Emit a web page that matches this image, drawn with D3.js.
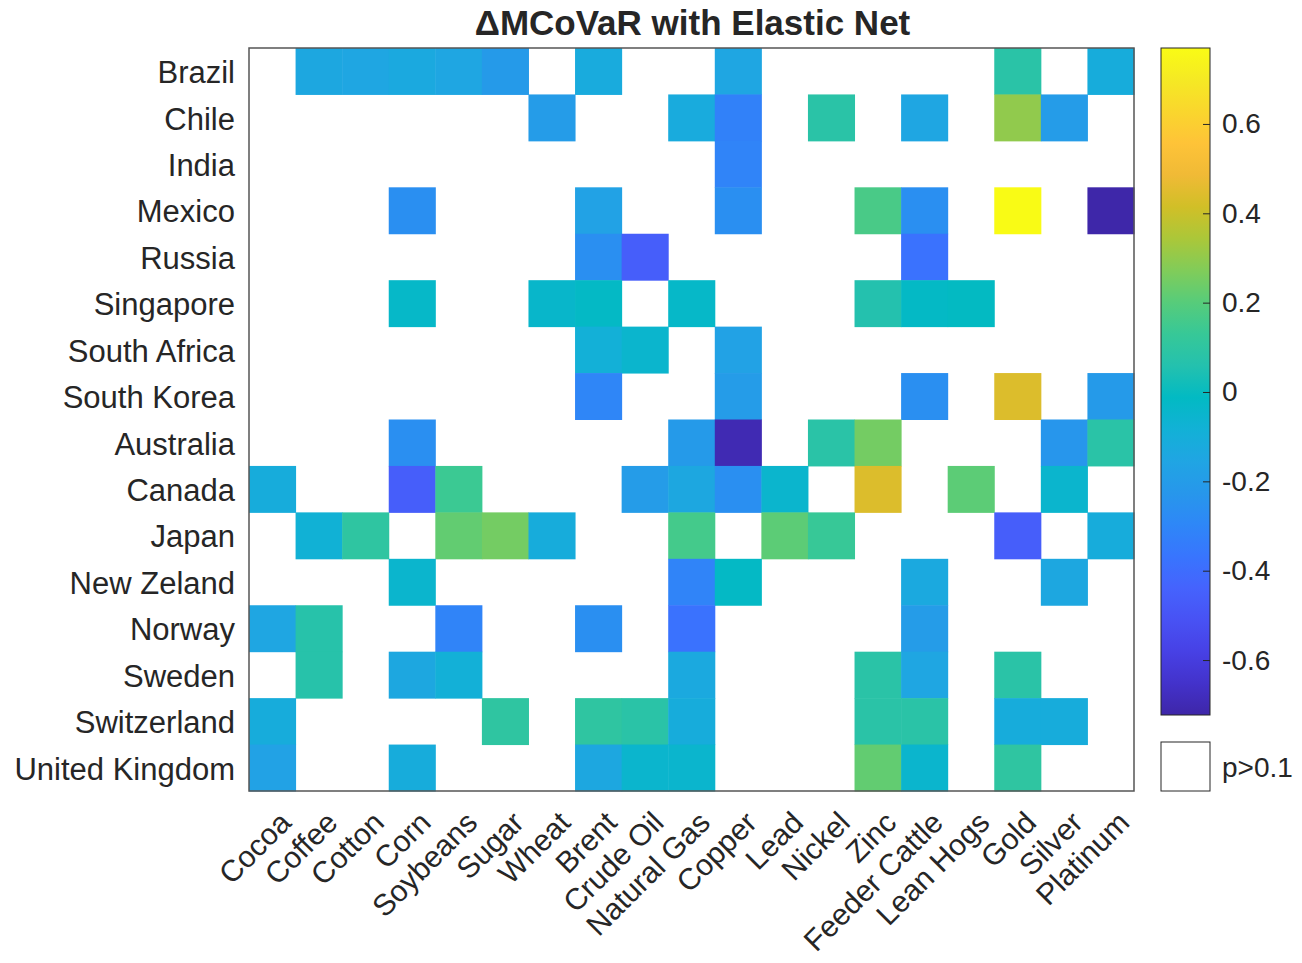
<!DOCTYPE html>
<html>
<head>
<meta charset="utf-8">
<script src="https://cdn.jsdelivr.net/npm/d3@7"></script>
<style>
  body { margin: 0; background: #fff; }
  text { font-family: "Liberation Sans", Arial, Helvetica, sans-serif; fill: #262626; }
</style>
</head>
<body>
<div id="chart"></div>
<script>
// categories
var countries = ["Brazil", "Chile", "India", "Mexico", "Russia", "Singapore", "South Africa",
    "South Korea", "Australia", "Canada", "Japan", "New Zeland", "Norway", "Sweden",
    "Switzerland", "United Kingdom"]
var commodities = ["Cocoa", "Coffee", "Cotton", "Corn", "Soybeans", "Sugar", "Wheat", "Brent",
    "Crude Oil", "Natural Gas", "Copper", "Lead", "Nickel", "Zinc", "Feeder Cattle",
    "Lean Hogs", "Gold", "Silver", "Platinum"]

// ΔMCoVaR values, one row per country (null = p>0.1)
var values = [
    [null, -0.14, -0.15, -0.13, -0.15, -0.21, null, -0.12, null, null, -0.15, null, null, null, null, null, 0.08, null, -0.11],
    [null, null, null, null, null, null, -0.20, null, null, -0.12, -0.32, null, 0.08, null, -0.15, null, 0.30, -0.20, null],
    [null, null, null, null, null, null, null, null, null, null, -0.31, null, null, null, null, null, null, null, null],
    [null, null, null, -0.26, null, null, null, -0.17, null, null, -0.26, null, null, 0.17, -0.26, null, 0.77, null, -0.72],
    [null, null, null, null, null, null, null, -0.26, -0.46, null, null, null, null, null, -0.38, null, null, null, null],
    [null, null, null, -0.03, null, null, -0.04, -0.02, null, -0.03, null, null, null, 0.06, -0.02, -0.01, null, null, null],
    [null, null, null, null, null, null, null, -0.09, -0.05, null, -0.17, null, null, null, null, null, null, null, null],
    [null, null, null, null, null, null, null, -0.30, null, null, -0.20, null, null, null, -0.26, null, 0.44, null, -0.21],
    [null, null, null, -0.26, null, null, null, null, null, -0.21, -0.70, null, 0.08, 0.25, null, null, null, -0.23, 0.08],
    [-0.11, null, null, -0.46, 0.14, null, null, null, -0.20, -0.14, -0.26, -0.05, null, 0.44, null, 0.21, null, -0.05, null],
    [null, -0.08, 0.10, null, 0.22, 0.25, -0.11, null, null, 0.16, null, 0.21, 0.13, null, null, null, -0.46, null, -0.11],
    [null, null, null, -0.05, null, null, null, null, null, -0.31, -0.02, null, null, null, -0.13, null, null, -0.14, null],
    [-0.15, 0.07, null, null, -0.31, null, null, -0.26, null, -0.38, null, null, null, null, -0.20, null, null, null, null],
    [null, 0.07, null, -0.14, -0.09, null, null, null, null, -0.13, null, null, null, 0.08, -0.15, null, 0.08, null, null],
    [-0.11, null, null, null, null, 0.10, null, 0.10, 0.08, -0.11, null, null, null, 0.08, 0.08, null, -0.11, -0.11, null],
    [-0.17, null, null, -0.11, null, null, null, -0.14, -0.05, -0.05, null, null, null, 0.22, -0.05, null, 0.10, null, null]
]

// colour limits and colourbar ticks
var cLimits = [-0.723, 0.77]
var cbTicks = [-0.6, -0.4, -0.2, 0, 0.2, 0.4, 0.6]

// parula colormap (every 3rd entry of the 64-entry table)
var parula = [
    [0.2422, 0.1504, 0.6603], [0.2647, 0.1978, 0.7952], [0.2783, 0.2559, 0.8991],
    [0.2810, 0.3228, 0.9579], [0.2699, 0.3892, 0.9906], [0.2206, 0.4603, 0.9973],
    [0.1786, 0.5289, 0.9682], [0.1540, 0.5902, 0.9218], [0.1248, 0.6459, 0.8883],
    [0.0689, 0.6948, 0.8394], [0.0067, 0.7312, 0.7660], [0.1408, 0.7584, 0.6842],
    [0.2161, 0.7843, 0.5923], [0.3406, 0.8008, 0.4789], [0.5044, 0.7993, 0.3480],
    [0.6720, 0.7793, 0.2227], [0.8203, 0.7498, 0.1535], [0.9393, 0.7288, 0.2100],
    [0.9970, 0.7659, 0.2199], [0.9786, 0.8386, 0.1766], [0.9597, 0.9135, 0.1423],
    [0.9769, 0.9839, 0.0805]
].map(c => d3.rgb(c[0] * 255, c[1] * 255, c[2] * 255).formatHex())

var width = 1302
var height = 963
var plotLeft = 249, plotRight = 1134, plotTop = 48, plotBottom = 791

var svg = d3.select('#chart')
    .append('svg')
    .attr('width', width)
    .attr('height', height)

var xScale = d3.scaleBand().domain(commodities).range([plotLeft, plotRight])
var yScale = d3.scaleBand().domain(countries).range([plotTop, plotBottom])

var colorScale = d3.scaleLinear()
    .domain(parula.map((c, i) => cLimits[0] + (cLimits[1] - cLimits[0]) * i / (parula.length - 1)))
    .range(parula)
    .clamp(true)

// flatten matrix into cells
var cells = []
values.forEach((row, i) => row.forEach((v, j) => {
    if (v !== null) cells.push({ country: countries[i], commodity: commodities[j], value: v })
}))

svg.append('g')
    .selectAll('rect')
    .data(cells)
    .join('rect')
    .attr('x', d => xScale(d.commodity))
    .attr('y', d => yScale(d.country))
    .attr('width', xScale.bandwidth() + 0.5)
    .attr('height', yScale.bandwidth() + 0.5)
    .attr('fill', d => colorScale(d.value))

// axes box
svg.append('rect')
    .attr('x', plotLeft).attr('y', plotTop)
    .attr('width', plotRight - plotLeft).attr('height', plotBottom - plotTop)
    .attr('fill', 'none')
    .attr('stroke', '#555')
    .attr('stroke-width', 1.5)

// country labels
svg.append('g')
    .selectAll('text')
    .data(countries)
    .join('text')
    .attr('x', plotLeft - 14)
    .attr('y', d => yScale(d) + yScale.bandwidth() / 2 + 1)
    .attr('dy', '0.35em')
    .attr('text-anchor', 'end')
    .style('font-size', '31px')
    .text(d => d)

// commodity labels, rotated
svg.append('g')
    .selectAll('text')
    .data(commodities)
    .join('text')
    .attr('text-anchor', 'end')
    .attr('dy', '0.35em')
    .attr('transform', d => `translate(${xScale(d) + xScale.bandwidth() / 2 + 13},${plotBottom + 26})rotate(-45)`)
    .style('font-size', '30px')
    .text(d => d)

// title
svg.append('text')
    .attr('x', (plotLeft + plotRight) / 2 + 1)
    .attr('y', 35)
    .attr('text-anchor', 'middle')
    .style('font-size', '35px')
    .style('font-weight', 'bold')
    .text('ΔMCoVaR with Elastic Net')

// colourbar
var cbX = 1161, cbW = 49, cbTop = 48, cbBottom = 715
var grad = svg.append('defs').append('linearGradient')
    .attr('id', 'parulaGrad')
    .attr('x1', 0).attr('y1', 1).attr('x2', 0).attr('y2', 0)
grad.selectAll('stop')
    .data(parula)
    .join('stop')
    .attr('offset', (d, i) => i / (parula.length - 1))
    .attr('stop-color', d => d)

svg.append('rect')
    .attr('x', cbX).attr('y', cbTop)
    .attr('width', cbW).attr('height', cbBottom - cbTop)
    .attr('fill', 'url(#parulaGrad)')
    .attr('stroke', '#262626')
    .attr('stroke-width', 1)

var cbScale = d3.scaleLinear().domain(cLimits).range([cbBottom, cbTop])
var cbAxis = d3.axisRight(cbScale)
    .tickValues(cbTicks)
    .tickSizeInner(-7)
    .tickSizeOuter(0)
    .tickPadding(12)
    .tickFormat(d => d === 0 ? '0' : d.toFixed(1))

var cbG = svg.append('g')
    .attr('transform', `translate(${cbX + cbW},0)`)
    .call(cbAxis)
cbG.select('.domain').remove()
cbG.selectAll('line').attr('stroke', '#262626')
cbG.selectAll('text')
    .style('font-size', '28px')
    .style('font-family', '"Liberation Sans", Arial, sans-serif')
    .attr('fill', '#262626')

// p>0.1 legend box
svg.append('rect')
    .attr('x', cbX).attr('y', 742)
    .attr('width', cbW).attr('height', 49)
    .attr('fill', '#fff')
    .attr('stroke', '#262626')
    .attr('stroke-width', 1)
svg.append('text')
    .attr('x', cbX + cbW + 12)
    .attr('y', 767)
    .attr('dy', '0.35em')
    .style('font-size', '28px')
    .text('p>0.1')
</script>
</body>
</html>
